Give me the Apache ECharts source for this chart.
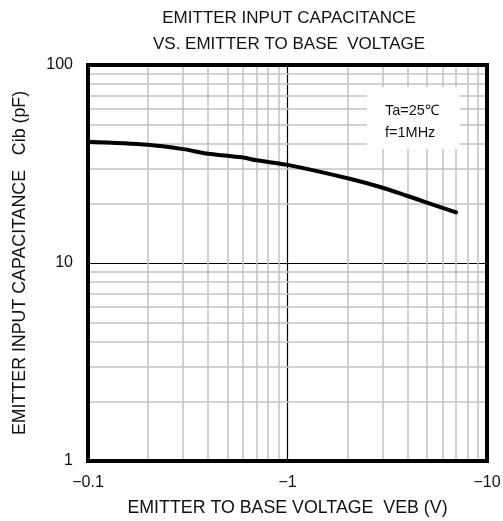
<!DOCTYPE html>
<html>
<head>
<meta charset="utf-8">
<script src="https://cdn.jsdelivr.net/npm/echarts@6/dist/echarts.min.js"></script>
<style>
html,body{margin:0;padding:0;background:#fff;}
#chart{width:503px;height:521px;}
</style>
</head>
<body>
<div id="chart"></div>
<script>
// Data: |VEB| (V) vs Cib (pF)
const veb = [0.1, 0.2, 0.3, 0.4, 0.5, 0.6, 0.7, 1, 2, 3, 4, 5, 7];
const cib = [41, 39.6, 37.6, 35.6, 34.8, 34.1, 33.0, 31.3, 26.8, 24.0, 21.8, 20.2, 18.0];
const xTicks = [0.1, 1, 10];
const xTickLabels = ['\u22120.1', '\u22121', '\u221210'];
const yTicks = [1, 10, 100];
const yTickLabels = ['1', '10', '100'];
const xMinor = [0.2,0.3,0.4,0.5,0.6,0.7,0.8,0.9,2,3,4,5,6,7,8,9];
const yMinor = [2,3,4,5,6,7,8,9,20,30,40,50,60,70,80,90];
const titleLines = ['EMITTER INPUT CAPACITANCE', 'VS. EMITTER TO BASE  VOLTAGE'];
const xName = 'EMITTER TO BASE VOLTAGE  VEB (V)';
const yName = 'EMITTER INPUT CAPACITANCE   Cib (pF)';
const noteLines = ['Ta=25\u2103', 'f=1MHz'];

const FONT = '"Liberation Sans", Arial, sans-serif';
const chart = echarts.init(document.getElementById('chart'));

function fmt(ticks, labels) {
  return function (v) {
    for (let i = 0; i < ticks.length; i++) {
      if (Math.abs(Math.log10(v) - Math.log10(ticks[i])) < 1e-6) return labels[i];
    }
    return '';
  };
}

chart.setOption({
  animation: false,
  backgroundColor: '#fff',
  title: {
    text: titleLines.join('\n'),
    left: 284, top: 0, textAlign: 'center',
    textStyle: { fontFamily: FONT, fontSize: 17, fontWeight: 'normal', color: '#111', lineHeight: 26 }
  },
  grid: { left: 88, right: 16, top: 65, bottom: 60, show: true, borderColor: '#000', borderWidth: 4, backgroundColor: 'transparent', z: 10, outerBoundsMode: 'none', containLabel: false },
  xAxis: {
    type: 'log', logBase: 10, min: 0.1, max: 10,
    name: xName, nameLocation: 'middle', nameGap: 38,
    nameTextStyle: { fontFamily: FONT, fontSize: 17.8, color: '#111' },
    axisLine: { show: false }, axisTick: { show: false },
    axisLabel: { formatter: fmt(xTicks, xTickLabels), fontFamily: FONT, fontSize: 16, color: '#111', margin: 14, showMinLabel: true, showMaxLabel: true, hideOverlap: false },
    splitLine: { show: true, lineStyle: { color: '#000', width: 1.2 } },
    minorTick: { show: false }, minorSplitLine: { show: false }
  },
  yAxis: {
    type: 'log', logBase: 10, min: 1, max: 100,
    name: yName, nameLocation: 'middle', nameGap: 59, nameRotate: 90,
    nameTextStyle: { fontFamily: FONT, fontSize: 17.8, color: '#111' },
    axisLine: { show: false }, axisTick: { show: false },
    axisLabel: { formatter: fmt(yTicks, yTickLabels), fontFamily: FONT, fontSize: 16, color: '#111', margin: 15, hideOverlap: false },
    splitLine: { show: true, lineStyle: { color: '#000', width: 1.2 } }
  },
  series: [
    {
      type: 'line', data: [], z: 1, silent: true,
      markLine: {
        silent: true, symbol: 'none', animation: false,
        label: { show: false },
        lineStyle: { color: '#c2c2c2', width: 1.5, type: 'solid' },
        data: xMinor.map(v => ({ xAxis: v })).concat(yMinor.map(v => ({ yAxis: v })))
      }
    },
    {
      type: 'line', z: 5, smooth: 0.3, showSymbol: false, symbol: 'none',
      data: veb.map((v, i) => [v, cib[i]]),
      lineStyle: { color: '#000', width: 4, cap: 'round' }
    }
  ],
  graphic: [
    { type: 'rect', left: 367, top: 87, shape: { width: 93, height: 62 }, style: { fill: '#fff' }, z: 20 },
    { type: 'text', left: 385, top: 100, style: { text: noteLines.join('\n'), font: '14.5px ' + FONT, fill: '#111', lineHeight: 22 }, z: 21 }
  ]
});
</script>
</body>
</html>
